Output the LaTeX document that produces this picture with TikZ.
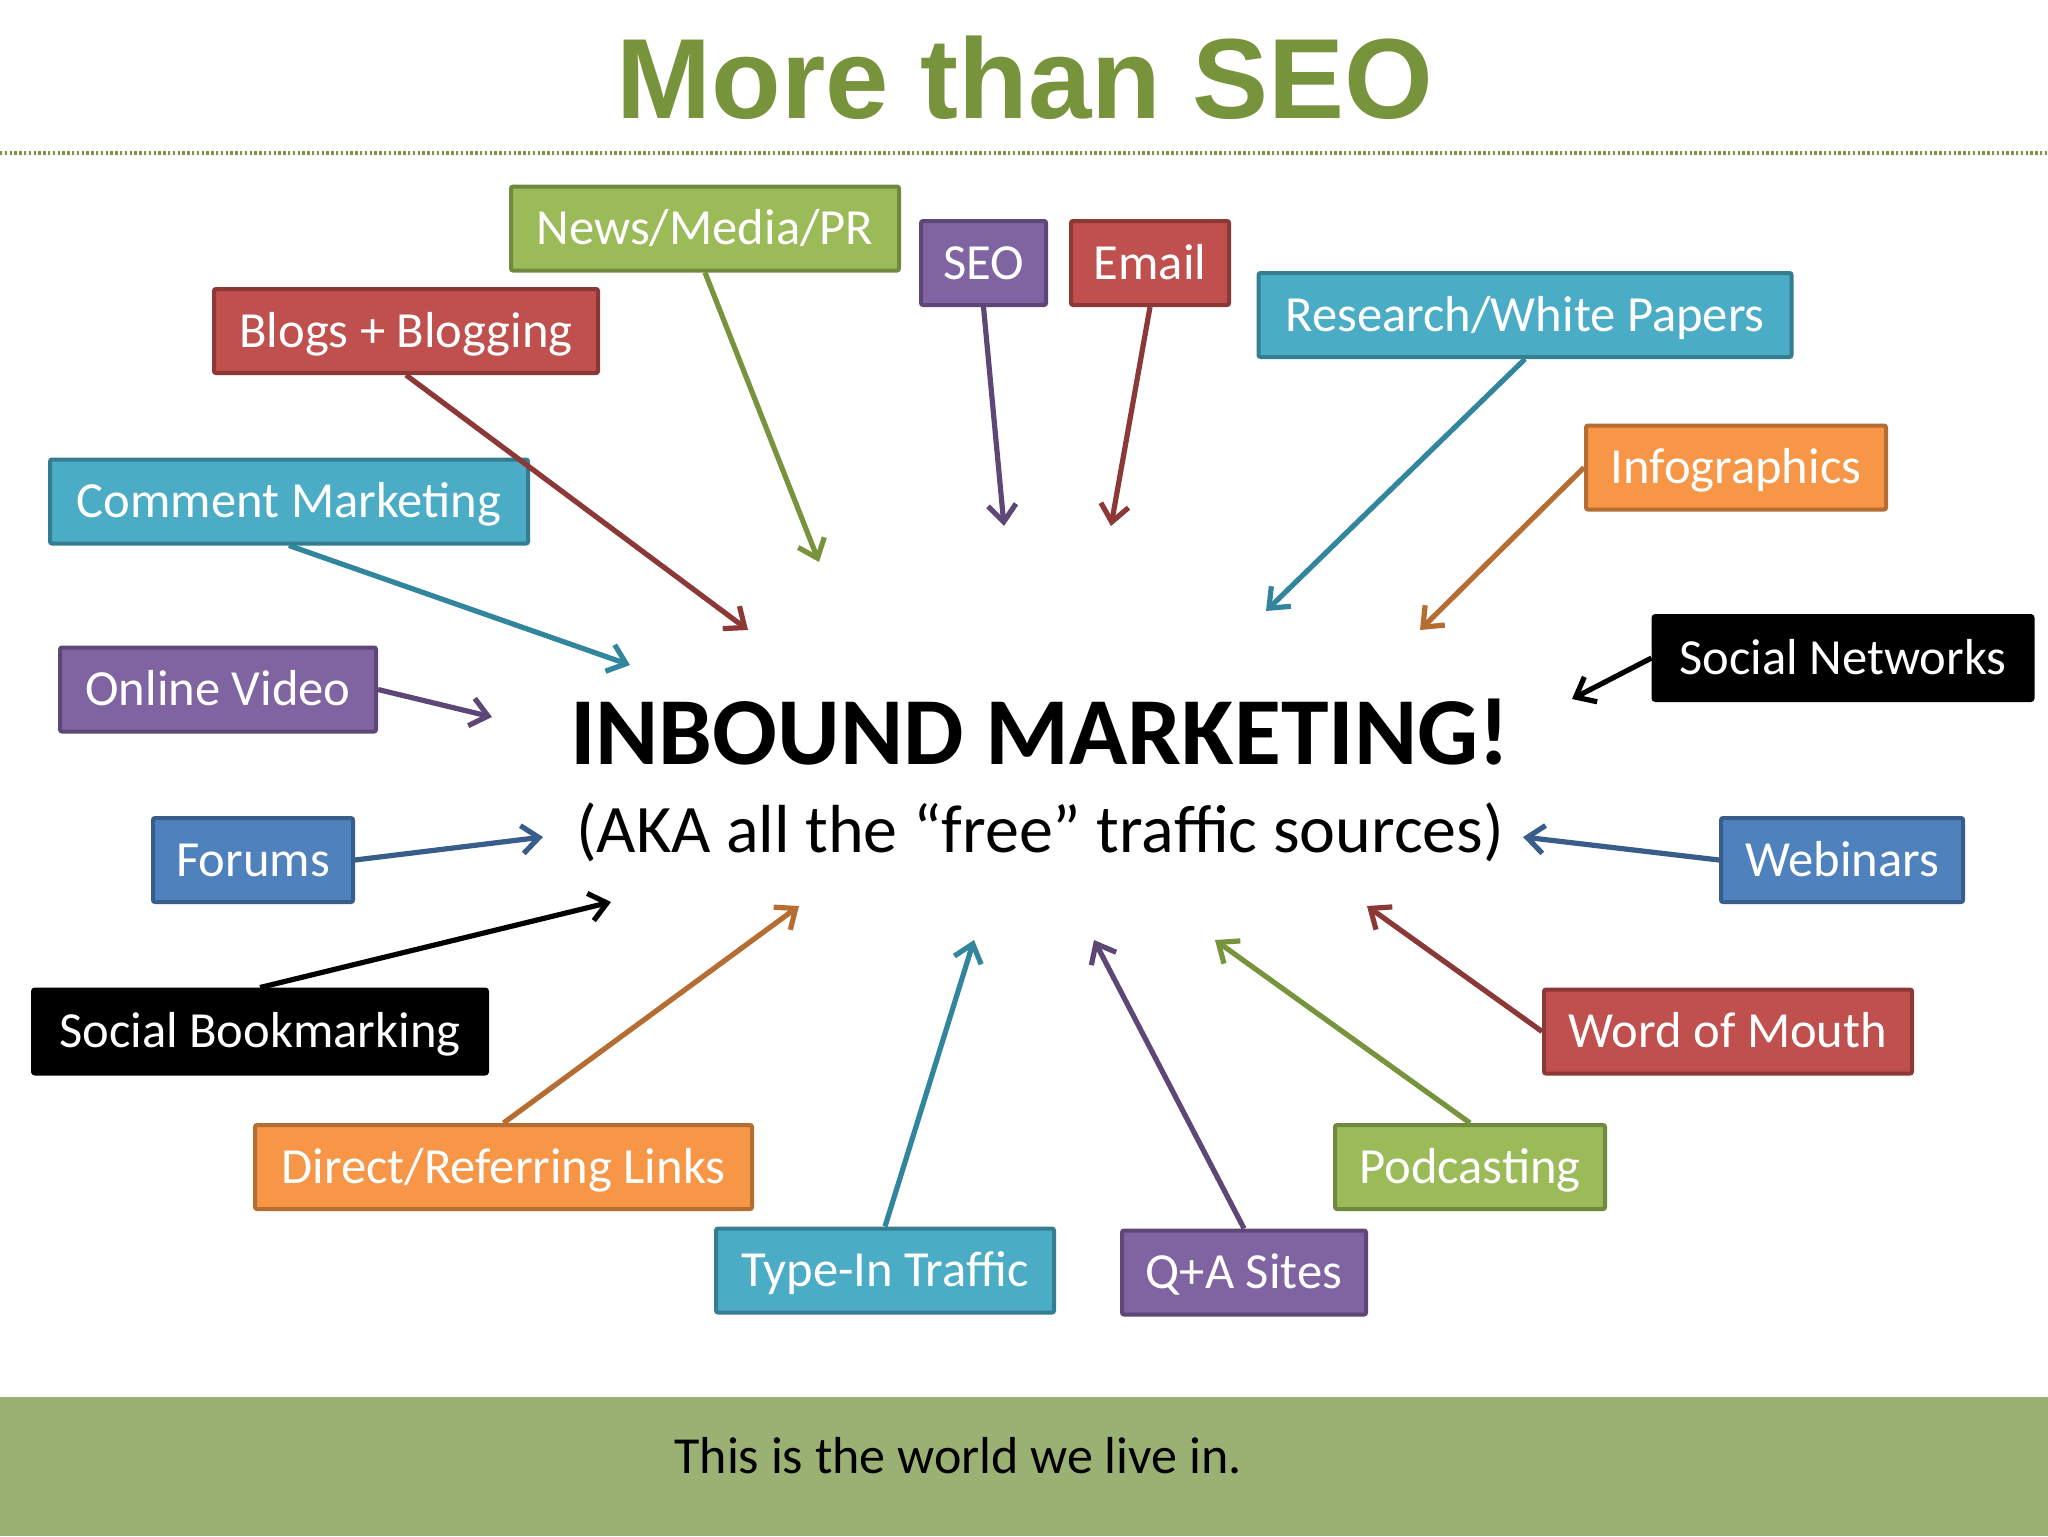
\documentclass[tikz,border=0pt]{standalone}
\usepackage{fontspec}
\setmainfont{Carlito}
\newfontfamily\titlefont{Liberation Sans}
\usetikzlibrary{arrows.meta}
\definecolor{gfill}{HTML}{9BBB59}\definecolor{gline}{HTML}{71893F}\definecolor{garr}{HTML}{77933C}
\definecolor{pfill}{HTML}{8064A2}\definecolor{pline}{HTML}{5C4776}
\definecolor{rfill}{HTML}{C0504D}\definecolor{rline}{HTML}{8C3836}
\definecolor{tfill}{HTML}{4BACC6}\definecolor{tline}{HTML}{357D91}\definecolor{tarr}{HTML}{31859C}
\definecolor{ofill}{HTML}{F79646}\definecolor{oline}{HTML}{B66D31}
\definecolor{bfill}{HTML}{4F81BD}\definecolor{bline}{HTML}{385D8A}
\definecolor{footer}{HTML}{9BB073}
\definecolor{titlegreen}{HTML}{77933C}
\tikzset{
  bx/.style 2 args={fill=#1, draw=#2, line width=2pt, rounded corners=1pt,
    text=white, font=\fontsize{25.3}{30}\selectfont, minimum height=42pt,
    inner sep=0pt, text height=16.1pt, text depth=0pt, align=center},
  arr/.style={draw=#1, line width=2.6pt, -{Straight Barb[length=8.5pt,width=14pt]}}
}
\begin{document}
\begin{tikzpicture}[x=0.5pt,y=-0.5pt]
\useasboundingbox (0,0) rectangle (2048,1536);
\fill[white] (0,0) rectangle (2048,1536);
% title
\node[anchor=base, text=titlegreen, font=\titlefont\bfseries\fontsize{57}{60}\selectfont, inner sep=0pt] (title) at (1025,119) {More than SEO};
\draw[titlegreen, line width=2.2pt, dash pattern=on 1.2pt off 1.2pt] (0,153) -- (2048,153);
% footer
\fill[footer] (0,1397) rectangle (2048,1536);
\node[anchor=base west, inner sep=0pt, font=\fontsize{26}{30}\selectfont] (foot) at (674,1473) {This is the world we live in.};
% center
\node[anchor=base, inner sep=0pt, font=\bfseries\fontsize{48}{54}\selectfont] (main) at (1040,764) {INBOUND MARKETING!};
\node[anchor=base, inner sep=0pt, font=\fontsize{34}{40}\selectfont] (sub) at (1040,852) {(AKA all the “free” traffic sources)};
% boxes
\node[bx={gfill}{gline}, minimum width=194pt] (news) at (705,228.5) {News/Media/PR};
\node[bx={pfill}{pline}, minimum width=62.5pt] (seo) at (983.5,263) {SEO};
\node[bx={rfill}{rline}, minimum width=79pt] (email) at (1150,263) {Email};
\node[bx={rfill}{rline}, minimum width=192pt] (blogs) at (406,331) {Blogs + Blogging};
\node[bx={tfill}{tline}, minimum width=266.5pt] (research) at (1525,315) {Research/White Papers};
\node[bx={ofill}{oline}, minimum width=150pt] (info) at (1736,467.5) {Infographics};
\node[bx={tfill}{tline}, minimum width=239pt] (comment) at (289,501.5) {Comment Marketing};
\node[bx={black}{black}, minimum width=189.5pt] (socnet) at (1843,658) {Social Networks};
\node[bx={pfill}{pline}, minimum width=158pt] (video) at (218,689.5) {Online Video};
\node[bx={bfill}{bline}, minimum width=100pt] (forums) at (253,860) {Forums};
\node[bx={bfill}{bline}, minimum width=121pt] (webinars) at (1842,860) {Webinars};
\node[bx={black}{black}, minimum width=227pt] (socbook) at (260,1031.5) {Social Bookmarking};
\node[bx={rfill}{rline}, minimum width=184pt] (wom) at (1728,1031.5) {Word of Mouth};
\node[bx={ofill}{oline}, minimum width=248.5pt] (direct) at (503.5,1167) {Direct/Referring Links};
\node[bx={gfill}{gline}, minimum width=135pt] (podcast) at (1470,1167) {Podcasting};
\node[bx={tfill}{tline}, minimum width=169pt] (typein) at (885,1270.5) {Type-In Traffic};
\node[bx={pfill}{pline}, minimum width=122pt] (qa) at (1244,1272.5) {Q+A Sites};
% arrow targets
\coordinate (tnews) at (819,562);
\coordinate (tseo) at (1004,526);
\coordinate (temail) at (1111,526);
\coordinate (tblogs) at (748,630);
\coordinate (tresearch) at (1266,611);
\coordinate (tinfo) at (1420,630);
\coordinate (tcomment) at (630,665);
\coordinate (tsocnet) at (1572,699);
\coordinate (tvideo) at (492,717);
\coordinate (tforums) at (543,837);
\coordinate (twebinars) at (1523,837);
\coordinate (tsocbook) at (611,902);
\coordinate (twom) at (1367,906);
\coordinate (tdirect) at (799,906);
\coordinate (tpodcast) at (1215,940);
\coordinate (ttypein) at (974,940);
\coordinate (tqa) at (1094,940);
% arrows
\draw[arr=garr] (news.south) -- (tnews);
\draw[arr=pline] (seo.south) -- (tseo);
\draw[arr=rline] (email.south) -- (temail);
\draw[arr=rline] (blogs.south) -- (tblogs);
\draw[arr=tarr] (research.south) -- (tresearch);
\draw[arr=oline] (info.west) -- (tinfo);
\draw[arr=tarr] (comment.south) -- (tcomment);
\draw[arr=black] (socnet.west) -- (tsocnet);
\draw[arr=pline] (video.east) -- (tvideo);
\draw[arr=bline] (forums.east) -- (tforums);
\draw[arr=bline] (webinars.west) -- (twebinars);
\draw[arr=black] (socbook.north) -- (tsocbook);
\draw[arr=rline] (wom.west) -- (twom);
\draw[arr=oline] (direct.north) -- (tdirect);
\draw[arr=garr] (podcast.north) -- (tpodcast);
\draw[arr=tarr] (typein.north) -- (ttypein);
\draw[arr=pline] (qa.north) -- (tqa);
\end{tikzpicture}
\end{document}
